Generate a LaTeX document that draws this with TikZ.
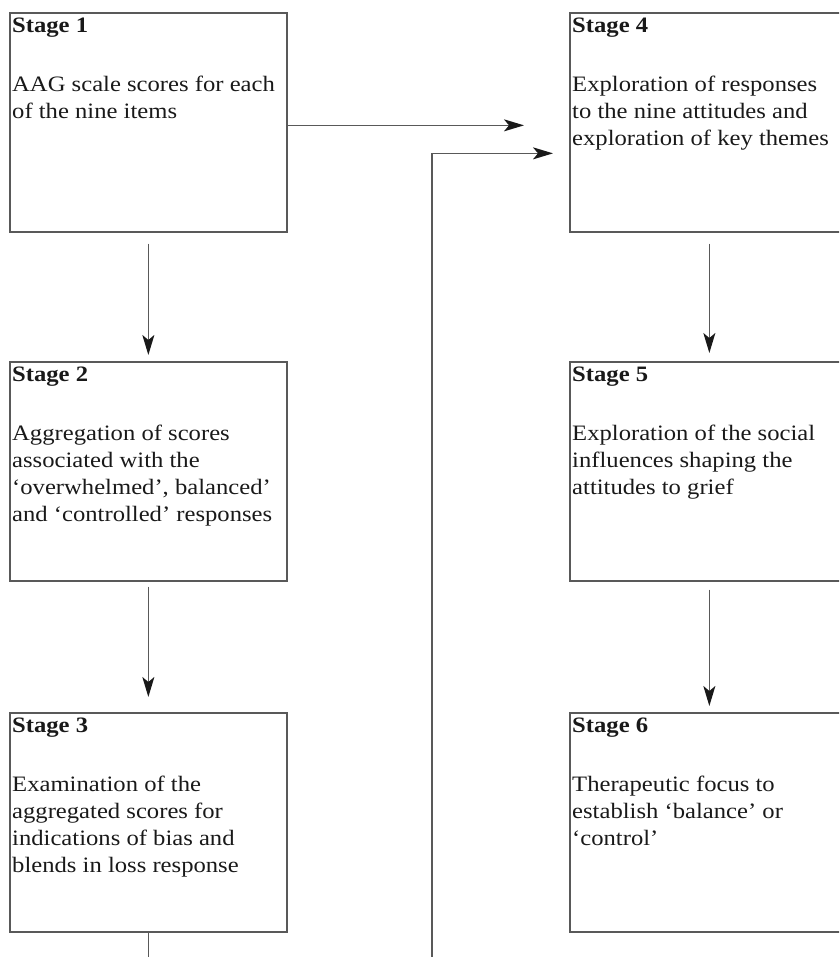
\documentclass[tikz,border=0pt]{standalone}
\usepackage{fontspec}
\setmainfont[FakeStretch=1.12]{Liberation Serif}
\usetikzlibrary{arrows.meta,calc}

\begin{document}
\begin{tikzpicture}[x=1pt, y=-1pt,
            stagebox/.style={draw=black!65, line width=1.7pt, minimum width=277pt, minimum height=219pt, inner sep=0pt, anchor=north west},
            stagetext/.style={anchor=north west, align=left, inner sep=0pt, text=black!90, font=\fontsize{22}{27}\selectfont},
            link/.style={draw=black!65, line width=1.6pt},
            flow/.style={link, -{Stealth[length=20pt, width=12pt, inset=5pt, color=black!90]}}]
            \useasboundingbox (0,0) rectangle (839,957);
            \clip (0,0) rectangle (839,957);

            \coordinate (L1) at (9,12);
            \coordinate (L2) at (9,361);
            \coordinate (L3) at (9,712);
            \coordinate (R1) at (569,12);
            \coordinate (R2) at (569,361);
            \coordinate (R3) at (569,712);
            \coordinate (bottom) at (432,960);

            \node[stagebox] (s1) at (L1) {};
            \node[stagebox] (s2) at (L2) {};
            \node[stagebox] (s3) at (L3) {};
            \node[stagebox] (s4) at (R1) {};
            \node[stagebox] (s5) at (R2) {};
            \node[stagebox] (s6) at (R3) {};

            \node[stagetext] (t1) at ($(s1.north west)+(3,6)$) {\textbf{Stage 1}\\[32pt]AAG scale scores for each\\of the nine items};
            \node[stagetext] (t2) at ($(s2.north west)+(3,6)$) {\textbf{Stage 2}\\[32pt]Aggregation of scores\\associated with the\\‘overwhelmed’, balanced’\\and ‘controlled’ responses};
            \node[stagetext] (t3) at ($(s3.north west)+(3,6)$) {\textbf{Stage 3}\\[32pt]Examination of the\\aggregated scores for\\indications of bias and\\blends in loss response};
            \node[stagetext] (t4) at ($(s4.north west)+(3,6)$) {\textbf{Stage 4}\\[32pt]Exploration of responses\\to the nine attitudes and\\exploration of key themes};
            \node[stagetext] (t5) at ($(s5.north west)+(3,6)$) {\textbf{Stage 5}\\[32pt]Exploration of the social\\influences shaping the\\attitudes to grief};
            \node[stagetext] (t6) at ($(s6.north west)+(3,6)$) {\textbf{Stage 6}\\[32pt]Therapeutic focus to\\establish ‘balance’ or\\‘control’};

            \draw[flow] ($(s1.south)+(0,11)$) -- ($(s2.north)+(0,-6)$);
            \draw[flow] ($(s2.south)+(0,5)$) -- ($(s3.north)+(0,-15)$);
            \draw[flow] ($(s4.south)+(1,11)$) -- ($(s5.north)+(1,-8)$);
            \draw[flow] ($(s5.south)+(1,8)$) -- ($(s6.north)+(1,-6)$);
            \draw[flow] ($(s1.east)+(0,3)$) -- ($(s4.west)+(-45,3)$);
            \draw[link] (s3.south) -- (s3.south |- bottom);
            \draw[flow] (bottom) |- ($(s4.west)+(-16,31)$);
        \end{tikzpicture}
\end{document}
